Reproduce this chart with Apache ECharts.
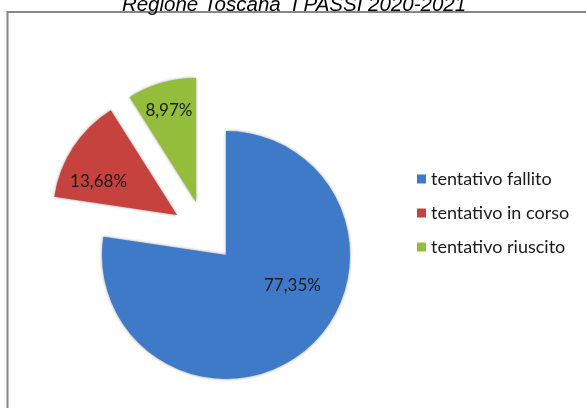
<!DOCTYPE html>
<html><head><meta charset="utf-8">
<script src="https://cdn.jsdelivr.net/npm/echarts@6/dist/echarts.min.js"></script>
<style>html,body{margin:0;padding:0;background:#fff}#c{width:586px;height:408px}</style>
</head><body><div id="c"></div>
<script>
const titleText = 'Regione Toscana  I PASSI 2020-2021';
const categories = ['tentativo fallito', 'tentativo in corso', 'tentativo riuscito'];
const values = [77.35, 13.68, 8.97];
const labels = ['77,35%', '13,68%', '8,97%'];
const colors = ['#3F7AC9', '#C6423F', '#95BD3C'];

const centers = [[226, 255], [177, 215], [196, 202]];
const shifts = [[24, -19], [-24, 2], [-9, -29]];
const R = 124;

const chart = echarts.init(document.getElementById('c'), null, {renderer: 'canvas'});
const series = categories.map((name, k) => ({
  type: 'pie',
  center: centers[k],
  radius: [0, R],
  startAngle: 90,
  clockwise: true,
  silent: true,
  animation: false,
  avoidLabelOverlap: false,
  labelLayout: {dx: shifts[k][0], dy: shifts[k][1], hideOverlap: false},
  data: categories.map((n, i) => ({
    name: n,
    value: values[i],
    itemStyle: i === k ? {
      color: colors[i],
      shadowBlur: 3,
      shadowColor: 'rgba(0,0,0,0.45)'
    } : {color: 'rgba(0,0,0,0)'},
    label: i === k ? {
      show: true,
      position: 'inside',
      formatter: labels[i],
      color: '#1a1a1a',
      fontFamily: 'Lato',
      fontSize: 17
    } : {show: false},
    labelLine: {show: false}
  }))
}));

chart.setOption({
  backgroundColor: '#fff',
  animation: false,
  legend: {
    orient: 'vertical',
    left: 412,
    top: 165,
    itemWidth: 9,
    itemHeight: 9,
    itemGap: 16,
    icon: 'rect',
    selectedMode: false,
    textStyle: {fontFamily: 'Lato', fontSize: 18, color: '#1a1a1a'},
    data: categories.map((n, i) => ({name: n, itemStyle: {color: colors[i]}}))
  },
  graphic: [
    {type: 'rect', shape: {x: 7.5, y: 12, width: 600, height: 420}, style: {fill: 'none', stroke: '#878787', lineWidth: 2}, silent: true},
    {type: 'text', x: 294, y: 15, style: {text: titleText, font: 'italic 20.5px "Liberation Sans"', fill: '#000', align: 'center', verticalAlign: 'bottom'}, silent: true}
  ],
  series: series
});
</script>
</body></html>
